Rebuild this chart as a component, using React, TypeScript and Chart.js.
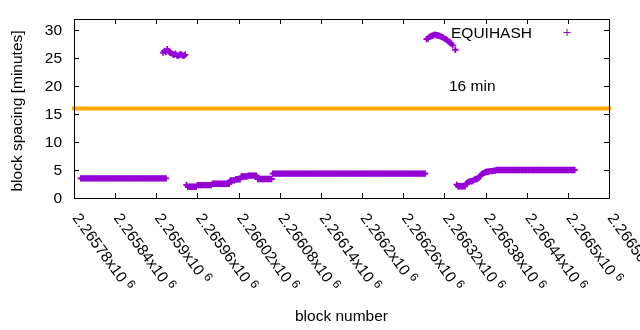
import React, { useEffect, useRef } from "react";
import { Chart, registerables } from "chart.js";

Chart.register(...registerables);

// ---- data (block number step = 2) ----
const stepBlocks = 2;

const segAStart = 2265790;
const segAValues = [
  3.5, 3.5, 3.5, 3.5, 3.5, 3.5, 3.5, 3.5, 3.5, 3.5, 3.5, 3.5, 3.5, 3.5, 3.5, 3.5,
  3.5, 3.5, 3.5, 3.5, 3.5, 3.5, 3.5, 3.5, 3.5, 3.5, 3.5, 3.5, 3.5, 3.5, 3.5, 3.5,
  3.5, 3.5, 3.5, 3.5, 3.5, 3.5, 3.5, 3.5, 3.5, 3.5, 3.5, 3.5, 3.5, 3.5, 3.5, 3.5,
  3.5, 3.5, 3.5, 3.5, 3.5, 3.5, 3.5, 3.5, 3.5, 3.5, 3.5, 3.5, 3.5, 3.5, 3.5,
];

const segBStart = 2265910;
const segBValues = [
  26.0, 26.3, 26.1, 26.6, 26.2, 26.0, 25.9, 25.7, 25.6, 25.8, 25.5, 25.4, 25.6, 25.7,
  25.5, 25.4, 25.6,
];

const segCStart = 2265944;
const segCValues = [
  2.35,
  2.0, 2.0, 2.0, 2.0, 2.0, 2.0, 2.0,
  2.3, 2.3, 2.3, 2.3, 2.3, 2.3, 2.3, 2.3, 2.3, 2.3, 2.3,
  2.55, 2.55, 2.55, 2.55, 2.55, 2.55, 2.55, 2.55, 2.55, 2.55, 2.55, 2.55, 2.55,
  3.15, 3.15, 3.15, 3.15,
  3.35, 3.35, 3.35, 3.35,
  3.85, 3.85, 3.85, 3.85, 3.85,
  4.0, 4.0, 4.0, 4.0, 4.0, 4.0, 4.0,
  3.4, 3.4, 3.4, 3.4, 3.4, 3.4, 3.4, 3.4, 3.4, 3.4, 3.4,
  4.35, 4.35, 4.35, 4.35, 4.35, 4.35, 4.35, 4.35, 4.35, 4.35, 4.35, 4.35, 4.35, 4.35,
  4.35, 4.35, 4.35, 4.35, 4.35, 4.35, 4.35, 4.35, 4.35, 4.35, 4.35, 4.35, 4.35, 4.35,
  4.35, 4.35, 4.35, 4.35, 4.35, 4.35, 4.35, 4.35, 4.35, 4.35, 4.35, 4.35, 4.35, 4.35,
  4.35, 4.35, 4.35, 4.35, 4.35, 4.35, 4.35, 4.35, 4.35, 4.35, 4.35, 4.35, 4.35, 4.35,
  4.35, 4.35, 4.35, 4.35, 4.35, 4.35, 4.35, 4.35, 4.35, 4.35, 4.35, 4.35, 4.35, 4.35,
  4.35, 4.35, 4.35, 4.35, 4.35, 4.35, 4.35, 4.35, 4.35, 4.35, 4.35, 4.35, 4.35, 4.35,
  4.35, 4.35, 4.35, 4.35, 4.35, 4.35, 4.35, 4.35, 4.35, 4.35, 4.35, 4.35, 4.35, 4.35,
  4.35, 4.35, 4.35, 4.35, 4.35, 4.35, 4.35, 4.35, 4.35, 4.35, 4.35, 4.35, 4.35, 4.35,
];

const segDStart = 2266294;
const segDValues = [
  28.4, 28.5, 28.8, 28.9, 29.0, 29.1, 29.2, 29.1, 29.1, 29.0, 28.9, 28.8, 28.7, 28.5,
  28.4, 28.2, 28.0, 27.8, 27.6, 27.3,
];
const segDExtraBlock = 2266336;
const segDExtraValue = 26.5;

const segEStart = 2266338;
const segEValues = [
  2.4, 2.1, 2.1, 2.1, 2.1, 2.1, 2.1,
  2.6, 2.8, 2.9, 3.0, 3.0, 3.1,
  3.3, 3.4, 3.4, 3.6, 3.9,
  4.2, 4.4, 4.5,
  4.6, 4.7, 4.7, 4.8, 4.8, 4.8, 4.9, 4.9,
  5.0, 5.0, 5.0, 5.0, 5.0, 5.0, 5.0, 5.0, 5.0, 5.0, 5.0, 5.0, 5.0, 5.0, 5.0,
  5.0, 5.0, 5.0, 5.0, 5.0, 5.0, 5.0, 5.0, 5.0, 5.0, 5.0, 5.0, 5.0, 5.0, 5.0,
  5.0, 5.0, 5.0, 5.0, 5.0, 5.0, 5.0, 5.0, 5.0, 5.0, 5.0, 5.0, 5.0, 5.0, 5.0,
  5.0, 5.0, 5.0, 5.0, 5.0, 5.0, 5.0, 5.0, 5.0, 5.0, 5.0, 5.0, 5.0,
];

const xMin = 2265780;
const xMax = 2266560;
const xTickValues = [
  2265780, 2265840, 2265900, 2265960, 2266020, 2266080, 2266140, 2266200, 2266260,
  2266320, 2266380, 2266440, 2266500, 2266560,
];
const yMin = 0;
const yMax = 32;
const yTickValues = [0, 5, 10, 15, 20, 25, 30];
const targetMinutes = 16;
const targetLabel = "16 min";
const seriesName = "EQUIHASH";
const xTitle = "block number";
const yTitle = "block spacing [minutes]";

const VIOLET = "#9400d3";
const ORANGE = "#ffa500";
const FONT = "Liberation Sans, Arial, sans-serif";

function seg(start: number, values: number[]) {
  return values.map((v, i) => ({ x: start + i * stepBlocks, y: v }));
}

const points = [
  ...seg(segAStart, segAValues),
  ...seg(segBStart, segBValues),
  ...seg(segCStart, segCValues),
  ...seg(segDStart, segDValues),
  { x: segDExtraBlock, y: segDExtraValue },
  ...seg(segEStart, segEValues),
];

function fmtTick(v: number) {
  return parseFloat((v / 1e6).toFixed(5)).toString();
}

const overlay = {
  id: "overlay",
  afterDraw(chart: any) {
    const { ctx, chartArea: a, scales } = chart;
    const xs = scales.x;
    const ys = scales.y;
    const xTicks = xs.ticks;
    const yTicks = ys.ticks;
    const L = Math.round(a.left);
    const R = Math.round(a.right);
    const T = Math.round(a.top);
    const B = Math.round(a.bottom);
    ctx.save();
    ctx.strokeStyle = "#000";
    ctx.lineWidth = 1;
    ctx.beginPath();
    ctx.rect(L + 0.5, T + 0.5, R - L, B - T);
    const tl = 5;
    xTicks.forEach((t: any) => {
      const px = Math.round(xs.getPixelForValue(t.value)) + 0.5;
      ctx.moveTo(px, B);
      ctx.lineTo(px, B - tl);
      ctx.moveTo(px, T);
      ctx.lineTo(px, T + tl);
    });
    yTicks.forEach((t: any) => {
      const py = Math.round(ys.getPixelForValue(t.value)) + 0.5;
      ctx.moveTo(L, py);
      ctx.lineTo(L + tl, py);
      ctx.moveTo(R, py);
      ctx.lineTo(R - tl, py);
    });
    ctx.stroke();

    ctx.fillStyle = "#000";
    ctx.font = `15.5px ${FONT}`;
    ctx.textAlign = "right";
    ctx.textBaseline = "middle";
    yTicks.forEach((t: any) => {
      const py = ys.getPixelForValue(t.value);
      ctx.fillText(String(t.value), L - 12, py + 1);
    });

    const ang = (54 * Math.PI) / 180;
    xTicks.forEach((t: any) => {
      const px = xs.getPixelForValue(t.value);
      ctx.save();
      ctx.translate(px - 2, B + 20);
      ctx.rotate(ang);
      ctx.textAlign = "left";
      ctx.textBaseline = "alphabetic";
      ctx.font = `15.5px ${FONT}`;
      const main = fmtTick(t.value) + "x10";
      ctx.fillText(main, 0, 0);
      const w = ctx.measureText(main).width;
      ctx.font = `12px ${FONT}`;
      ctx.fillText("6", w + 4, -5);
      ctx.restore();
    });

    ctx.font = `15.5px ${FONT}`;
    ctx.textAlign = "center";
    ctx.textBaseline = "alphabetic";
    ctx.fillText(xTitle, (L + R) / 2, 321);
    ctx.save();
    ctx.translate(22, 111);
    ctx.rotate(-Math.PI / 2);
    ctx.fillText(yTitle, 0, 0);
    ctx.restore();

    ctx.textAlign = "left";
    ctx.fillText(seriesName, 451, 37.5);
    ctx.strokeStyle = VIOLET;
    ctx.beginPath();
    ctx.moveTo(563.5, 32.5);
    ctx.lineTo(570.5, 32.5);
    ctx.moveTo(567, 29);
    ctx.lineTo(567, 36);
    ctx.stroke();

    ctx.fillStyle = "#000";
    ctx.fillText(targetLabel, 449, 91);
    ctx.restore();
  },
};

export default function App() {
  const ref = useRef<HTMLCanvasElement>(null);
  useEffect(() => {
    const canvas = ref.current;
    if (!canvas) return;
    const chart = new Chart(canvas, {
      type: "scatter",
      data: {
        datasets: [
          {
            type: "line",
            data: [
              { x: xMin, y: targetMinutes },
              { x: xMax, y: targetMinutes },
            ],
            borderColor: ORANGE,
            borderWidth: 4,
            borderCapStyle: "square",
            pointRadius: 0,
            clip: false,
            order: 2,
          } as any,
          {
            data: points,
            pointStyle: "cross",
            pointRadius: 3.2,
            pointHoverRadius: 3.2,
            borderColor: VIOLET,
            backgroundColor: VIOLET,
            borderWidth: 1.8,
            showLine: false,
            order: 1,
          } as any,
        ],
      },
      options: {
        responsive: false,
        animation: false,
        events: [],
        layout: { padding: { top: 19, right: 31, left: 0, bottom: 0 } },
        plugins: {
          legend: { display: false },
          tooltip: { enabled: false },
        },
        scales: {
          x: {
            type: "linear",
            min: xMin,
            max: xMax,
            ticks: { display: false },
            grid: { display: false },
            border: { display: false },
            afterBuildTicks: (s: any) => {
              s.ticks = xTickValues.map((v) => ({ value: v }));
            },
            afterFit: (s: any) => {
              s.height = 132;
            },
          },
          y: {
            type: "linear",
            min: yMin,
            max: yMax,
            ticks: { display: false },
            grid: { display: false },
            border: { display: false },
            afterBuildTicks: (s: any) => {
              s.ticks = yTickValues.map((v) => ({ value: v }));
            },
            afterFit: (s: any) => {
              s.width = 74;
            },
          },
        },
      },
      plugins: [overlay],
    });
    return () => chart.destroy();
  }, []);
  return (
    <div style={{ position: "absolute", left: 0, top: 0, width: 640, height: 330, background: "#fff" }}>
      <canvas ref={ref} width={640} height={330} style={{ display: "block" }} />
    </div>
  );
}
